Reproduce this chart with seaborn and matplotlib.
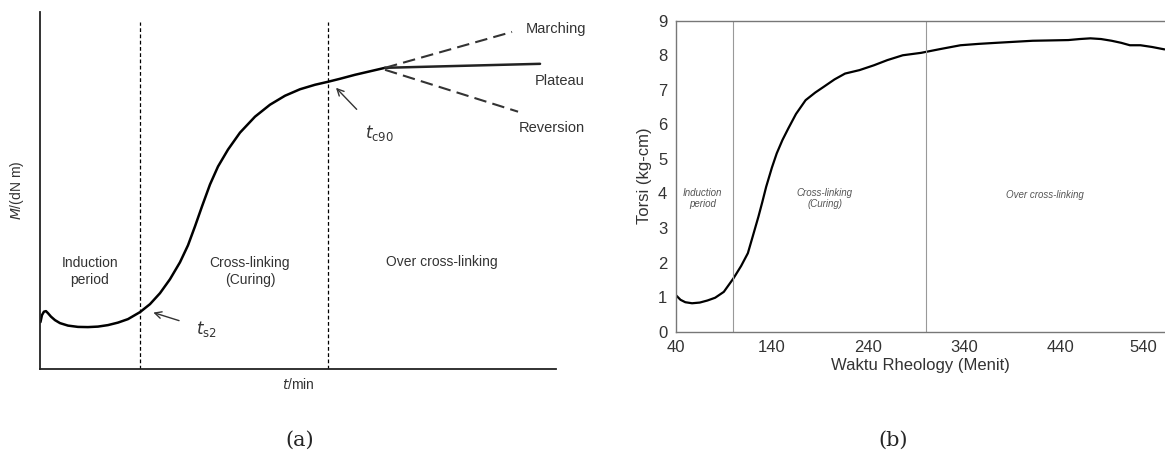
import numpy as np
import pandas as pd
import matplotlib
matplotlib.use("Agg")
import matplotlib.pyplot as plt
import seaborn as sns

# (a) schematic cure curve, arbitrary units
sch_t = [0.5, 2, 4, 6, 8, 11, 15, 20, 28, 38, 48, 58, 68, 78, 88, 100, 110, 120, 130, 140,
         148, 155, 162, 170, 178, 188, 200, 215, 230, 245, 260, 275, 288, 300, 315, 330, 345]
sch_m = [47, 54, 57.5, 58, 56, 52.5, 49, 46, 43.5, 42.2, 42, 42.5, 44, 46.5, 50, 57, 65, 76,
         90, 107, 124, 143, 163, 185, 203, 220, 237, 253, 265, 274, 280.5, 285, 288, 291,
         295, 298.5, 302]
plateau_t = [345, 500]
plateau_m = [302, 306]
marching_t = [345, 472]
marching_m = [302, 338]
reversion_t = [345, 478]
reversion_m = [300, 258]
sch_bounds = [100, 288]

# (b) measured rheology curve
rheo_t = [40, 45, 50, 57, 65, 73, 81, 90, 100, 108, 115, 120, 126, 130, 134, 140, 145, 151,
          157, 165, 175, 185, 194, 205, 216, 231, 246, 260, 276, 295, 315, 336, 355, 373,
          392, 411, 430, 448, 460, 471, 482, 493, 503, 512, 523, 535, 548]
rheo_torsi = [1.06, 0.92, 0.85, 0.82, 0.84, 0.90, 0.98, 1.15, 1.54, 1.9, 2.27, 2.75, 3.33,
              3.75, 4.19, 4.75, 5.16, 5.55, 5.88, 6.3, 6.70, 6.92, 7.09, 7.30, 7.47, 7.57,
              7.71, 7.86, 8.00, 8.07, 8.18, 8.29, 8.33, 8.36, 8.39, 8.42, 8.43, 8.44, 8.47,
              8.49, 8.47, 8.42, 8.36, 8.29, 8.29, 8.24, 8.17]
rheo_bounds = [100, 300]
rheo_xticks = [40, 140, 240, 340, 440, 540]
rheo_yticks = list(range(0, 10))

sns.set_style("white")
plt.rcParams['font.family'] = ['Liberation Sans', 'DejaVu Sans']

fig = plt.figure(figsize=(11.65, 4.71), dpi=100)

# ---------- (a) ----------
ax1 = fig.add_axes([0.0343, 0.2166, 0.443, 0.758])
sns.lineplot(x=sch_t, y=sch_m, ax=ax1, color='black', lw=1.8, sort=False)
sns.lineplot(x=plateau_t, y=plateau_m, ax=ax1, color='#222222', lw=1.8)
sns.lineplot(x=marching_t, y=marching_m, ax=ax1, color='#333333', lw=1.5, linestyle=(0, (6, 3)))
sns.lineplot(x=reversion_t, y=reversion_m, ax=ax1, color='#333333', lw=1.5, linestyle=(0, (6, 3)))
for b in sch_bounds:
    ax1.plot([b, b], [0, 348], color='black', lw=0.9, linestyle=(0, (3, 2)))
ax1.set_xlim(0, 516)
ax1.set_ylim(0, 358)
ax1.set_xticks([])
ax1.set_yticks([])
for s in ['top', 'right']:
    ax1.spines[s].set_visible(False)
for s in ['left', 'bottom']:
    ax1.spines[s].set_color('#222222')
    ax1.spines[s].set_linewidth(1.3)
ax1.set_xlabel('$t$/min', fontsize=10, color='#333333', labelpad=6)
ax1.set_ylabel('$M$/(dN m)', fontsize=10, color='#333333', labelpad=10)

tc = '#333333'
ax1.text(50, 98, 'Induction\nperiod', ha='center', va='center', fontsize=10, color=tc, linespacing=1.3)
ax1.text(210, 98, 'Cross-linking\n(Curing)', ha='center', va='center', fontsize=10, color=tc, linespacing=1.3)
ax1.text(402, 107, 'Over cross-linking', ha='center', va='center', fontsize=10, color=tc)
ax1.text(486, 341, 'Marching', ha='left', va='center', fontsize=10.5, color=tc)
ax1.text(495, 289, 'Plateau', ha='left', va='center', fontsize=10.5, color=tc)
ax1.text(479, 242, 'Reversion', ha='left', va='center', fontsize=10.5, color=tc)
ax1.annotate(r'$t_{\mathrm{c90}}$', xy=(295, 283), xytext=(339, 237), fontsize=12, color=tc,
             ha='center', va='center',
             arrowprops=dict(arrowstyle='->', color='#333333', lw=1.0, shrinkA=10, shrinkB=1))
ax1.annotate(r'$t_{\mathrm{s2}}$', xy=(112, 57), xytext=(166, 40), fontsize=12, color=tc,
             ha='center', va='center',
             arrowprops=dict(arrowstyle='->', color='#333333', lw=1.0, shrinkA=10, shrinkB=1))

# ---------- (b) ----------
ax2 = fig.add_axes([0.580, 0.296, 0.42, 0.660])
df = pd.DataFrame({'t': rheo_t, 'torsi': rheo_torsi})
sns.lineplot(data=df, x='t', y='torsi', ax=ax2, color='black', lw=1.6)
for b in rheo_bounds:
    ax2.axvline(b, color='#999999', lw=0.8)
ax2.set_xlim(40, 548.5)
ax2.set_ylim(0, 9)
ax2.set_xticks(rheo_xticks)
ax2.set_yticks(rheo_yticks)
ax2.tick_params(length=0, labelsize=12, colors='#333333', pad=6)
ax2.get_xticklabels()[-1].set_ha('right')
ax2.spines['right'].set_visible(False)
for s in ['left', 'bottom', 'top']:
    ax2.spines[s].set_color('#777777')
    ax2.spines[s].set_linewidth(1.0)
ax2.set_xlabel('Waktu Rheology (Menit)', fontsize=12, color='#333333', labelpad=2)
ax2.set_ylabel('Torsi (kg-cm)', fontsize=12, color='#333333', labelpad=4)
gc = '#555555'
ax2.text(68, 3.85, 'Induction\nperiod', ha='center', va='center', fontsize=7, style='italic', color=gc)
ax2.text(195, 3.85, 'Cross-linking\n(Curing)', ha='center', va='center', fontsize=7, style='italic', color=gc)
ax2.text(424, 3.95, 'Over cross-linking', ha='center', va='center', fontsize=7, style='italic', color=gc)

# captions
fig.text(0.2575, 0.066, '(a)', ha='center', va='center', fontsize=15, family='DejaVu Serif')
fig.text(0.767, 0.066, '(b)', ha='center', va='center', fontsize=15, family='DejaVu Serif')

fig.savefig('out.png', dpi=100)
